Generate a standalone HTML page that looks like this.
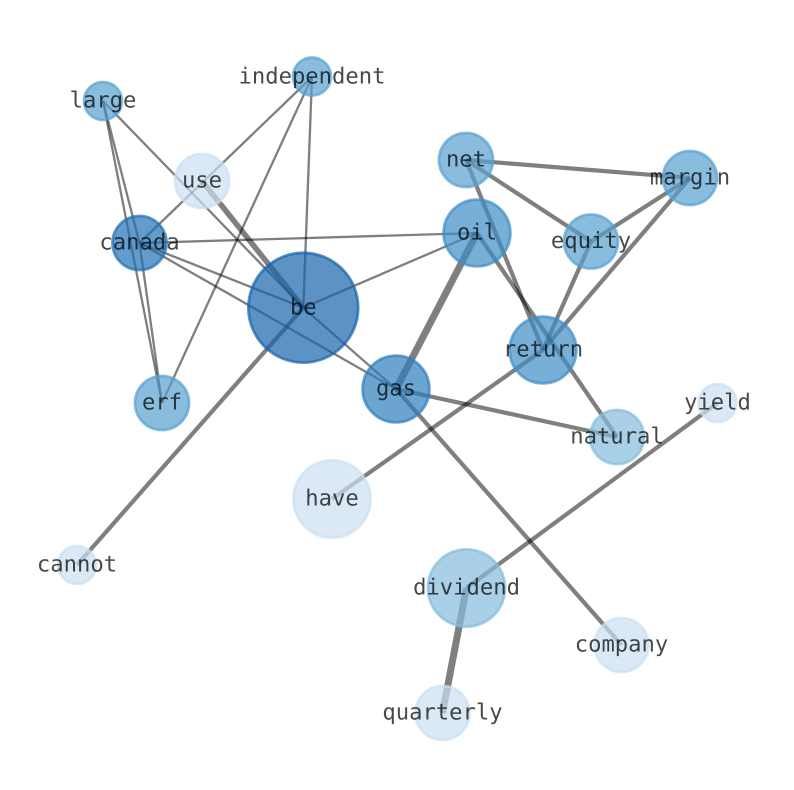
<!DOCTYPE html>
<html>
<head>
<meta charset="utf-8">
<style>
html,body{margin:0;padding:0;background:#fff;width:794px;height:790px;overflow:hidden}
svg{display:block}
text{font-family:"DejaVu Sans Mono","Liberation Mono",monospace;font-size:22.2px;fill:#000;fill-opacity:.72;text-anchor:middle;text-rendering:geometricPrecision}
.e{stroke:#000;stroke-opacity:.5;fill:none}
.n{stroke-width:2.8}
</style>
</head>
<body>
<svg width="794" height="790" viewBox="0 0 794 790" xmlns="http://www.w3.org/2000/svg">
<g class="e">
<line x1="202" y1="181" x2="303.3" y2="307.7" stroke-width="5.5"/>
<line x1="103" y1="101" x2="303.3" y2="307.7" stroke-width="2.3"/>
<line x1="103" y1="101" x2="139.5" y2="243" stroke-width="2.3"/>
<line x1="103" y1="101" x2="162" y2="403" stroke-width="2.3"/>
<line x1="139.5" y1="243" x2="162" y2="403" stroke-width="2.3"/>
<line x1="312" y1="77" x2="139.5" y2="243" stroke-width="2.3"/>
<line x1="312" y1="77" x2="303.3" y2="307.7" stroke-width="2.3"/>
<line x1="312" y1="77" x2="162" y2="403" stroke-width="2.3"/>
<line x1="139.5" y1="243" x2="477" y2="233" stroke-width="2.3"/>
<line x1="139.5" y1="243" x2="303.3" y2="307.7" stroke-width="2.3"/>
<line x1="139.5" y1="243" x2="396" y2="389" stroke-width="2.3"/>
<line x1="303.3" y1="307.7" x2="477" y2="233" stroke-width="2.3"/>
<line x1="303.3" y1="307.7" x2="396" y2="389" stroke-width="2.3"/>
<line x1="303.3" y1="307.7" x2="77" y2="565" stroke-width="4.2"/>
<line x1="477" y1="233" x2="396" y2="389" stroke-width="7"/>
<line x1="477" y1="233" x2="617" y2="437" stroke-width="4.2"/>
<line x1="466" y1="160" x2="543" y2="350" stroke-width="4.2"/>
<line x1="466" y1="160" x2="690" y2="178" stroke-width="4.2"/>
<line x1="466" y1="160" x2="591" y2="241.500" stroke-width="4.2"/>
<line x1="690" y1="178" x2="591" y2="241.500" stroke-width="4.2"/>
<line x1="690" y1="178" x2="543" y2="350" stroke-width="4.2"/>
<line x1="591" y1="241.500" x2="543" y2="350" stroke-width="4.2"/>
<line x1="543" y1="350" x2="332" y2="499" stroke-width="4.2"/>
<line x1="396" y1="389" x2="617" y2="437" stroke-width="4.2"/>
<line x1="396" y1="389" x2="621.500" y2="645" stroke-width="4.2"/>
<line x1="717.500" y1="403" x2="466.500" y2="588" stroke-width="4.2"/>
<line x1="466.500" y1="588" x2="442.500" y2="713" stroke-width="7"/>
</g>
<g class="n">
<circle cx="303.300" cy="307.700" r="54.900" fill="#1764ab" fill-opacity=".7" stroke="#1764ab" stroke-opacity=".7"/>
<circle cx="139.500" cy="243" r="27" fill="#2171b5" fill-opacity=".7" stroke="#2171b5" stroke-opacity=".7"/>
<circle cx="396" cy="389" r="33.400" fill="#2e7ebc" fill-opacity=".7" stroke="#2e7ebc" stroke-opacity=".7"/>
<circle cx="477" cy="233" r="33.400" fill="#3d8dc4" fill-opacity=".7" stroke="#3d8dc4" stroke-opacity=".7"/>
<circle cx="543" cy="350" r="33.400" fill="#3d8dc4" fill-opacity=".7" stroke="#3d8dc4" stroke-opacity=".7"/>
<circle cx="466" cy="160" r="27" fill="#58a1cf" fill-opacity=".7" stroke="#58a1cf" stroke-opacity=".7"/>
<circle cx="690" cy="178" r="27" fill="#58a1cf" fill-opacity=".7" stroke="#58a1cf" stroke-opacity=".7"/>
<circle cx="591" cy="241.500" r="27" fill="#58a1cf" fill-opacity=".7" stroke="#58a1cf" stroke-opacity=".7"/>
<circle cx="162" cy="403" r="27" fill="#58a1cf" fill-opacity=".7" stroke="#58a1cf" stroke-opacity=".7"/>
<circle cx="312" cy="76.500" r="19" fill="#58a1cf" fill-opacity=".7" stroke="#58a1cf" stroke-opacity=".7"/>
<circle cx="103" cy="101" r="19" fill="#58a1cf" fill-opacity=".7" stroke="#58a1cf" stroke-opacity=".7"/>
<circle cx="466.500" cy="588" r="38.600" fill="#84bcdb" fill-opacity=".7" stroke="#84bcdb" stroke-opacity=".7"/>
<circle cx="617" cy="437" r="27" fill="#84bcdb" fill-opacity=".7" stroke="#84bcdb" stroke-opacity=".7"/>
<circle cx="202" cy="181" r="27" fill="#cbdff1" fill-opacity=".7" stroke="#cbdff1" stroke-opacity=".7"/>
<circle cx="332" cy="499" r="38.600" fill="#cbdff1" fill-opacity=".7" stroke="#cbdff1" stroke-opacity=".7"/>
<circle cx="77" cy="565" r="19" fill="#cbdff1" fill-opacity=".7" stroke="#cbdff1" stroke-opacity=".7"/>
<circle cx="717.500" cy="403" r="19" fill="#cbdff1" fill-opacity=".7" stroke="#cbdff1" stroke-opacity=".7"/>
<circle cx="621.500" cy="645" r="27" fill="#cbdff1" fill-opacity=".7" stroke="#cbdff1" stroke-opacity=".7"/>
<circle cx="442.500" cy="713" r="27" fill="#cbdff1" fill-opacity=".7" stroke="#cbdff1" stroke-opacity=".7"/>
</g>
<g>
<text x="303.300" y="314.500">be</text>
<text x="139.500" y="249.500">canada</text>
<text x="396" y="395.500">gas</text>
<text x="477" y="239.500">oil</text>
<text x="543" y="356.500">return</text>
<text x="466" y="166.500">net</text>
<text x="690" y="184.500">margin</text>
<text x="591" y="248">equity</text>
<text x="162" y="409.500">erf</text>
<text x="312" y="83.500">independent</text>
<text x="103" y="107.500">large</text>
<text x="466.500" y="594.500">dividend</text>
<text x="617" y="443.500">natural</text>
<text x="202" y="187.500">use</text>
<text x="332" y="505.500">have</text>
<text x="77" y="571.500">cannot</text>
<text x="717.500" y="409.500">yield</text>
<text x="621.500" y="651.500">company</text>
<text x="442.500" y="719.500">quarterly</text>
</g>
</svg>
</body>
</html>
